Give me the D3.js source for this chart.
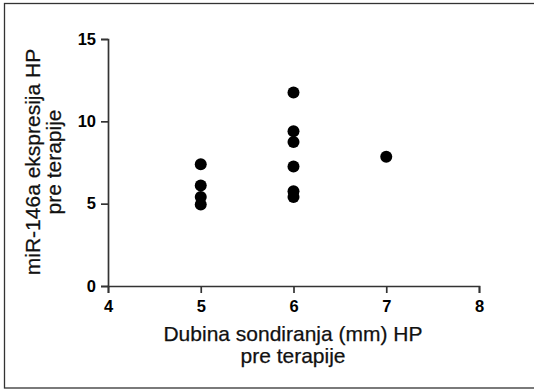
<!DOCTYPE html>
<html><head><meta charset="utf-8">
<script src="https://cdn.jsdelivr.net/npm/d3@7"></script>
<style>body{margin:0;background:#fff}svg{display:block}</style>
</head><body>
<svg id="c" width="534" height="389"></svg>
<script>
const xVals = [5, 5, 5, 5, 6, 6, 6, 6, 6, 6, 7];
const yVals = [7.4, 6.1, 5.4, 4.95, 11.75, 9.4, 8.75, 7.25, 5.75, 5.4, 7.85];
const xTicks = [4, 5, 6, 7, 8];
const yTicks = [0, 5, 10, 15];
const xTitle = ["Dubina sondiranja (mm) HP", "pre terapije"];
const yTitle = ["miR-146a ekspresija HP", "pre terapije"];

const svg = d3.select("#c");
const font = "Liberation Sans, Arial, sans-serif";
// frame
svg.append("rect").attr("x",4.5).attr("y",3.5).attr("width",540).attr("height",384.5)
  .attr("fill","none").attr("stroke","#333").attr("stroke-width",1.3);

const x = d3.scaleLinear().domain([4,8]).range([108,479]);
const y = d3.scaleLinear().domain([0,15]).range([286,39]);

const xAxis = svg.append("g").attr("transform","translate(0,286)")
  .call(d3.axisBottom(x).tickValues(xTicks).tickSize(7).tickPadding(7).tickFormat(d3.format("d")));
const yAxis = svg.append("g").attr("transform","translate(108,0)")
  .call(d3.axisLeft(y).tickValues(yTicks).tickSize(7).tickPadding(5).tickFormat(d3.format("d")));
[xAxis,yAxis].forEach(g=>{
  g.select(".domain").attr("stroke","#333").attr("stroke-width",1.7);
  g.selectAll(".tick line").attr("stroke","#333").attr("stroke-width",1.7);
  g.selectAll(".tick text").attr("fill","#000").attr("font-family",font)
    .attr("font-size",16.5).attr("font-weight","bold");
});

svg.append("g").selectAll("circle").data(xVals).join("circle")
  .attr("cx",(d)=>x(d)).attr("cy",(d,i)=>y(yVals[i])).attr("r",6).attr("fill","#000");

svg.append("text").attr("font-family",font).attr("font-size",21).attr("text-anchor","middle")
  .attr("fill","#111").attr("stroke","#111").attr("stroke-width",0.25)
  .selectAll("tspan").data(xTitle).join("tspan")
  .attr("x",293).attr("y",(d,i)=>341+i*22).text(d=>d);

svg.append("text").attr("font-family",font).attr("font-size",21).attr("text-anchor","middle")
  .attr("fill","#111").attr("stroke","#111").attr("stroke-width",0.25)
  .attr("transform","translate(0,162) rotate(-90)")
  .selectAll("tspan").data(yTitle).join("tspan")
  .attr("x",0).attr("y",(d,i)=>40+i*21).text(d=>d);
</script>
</body></html>
